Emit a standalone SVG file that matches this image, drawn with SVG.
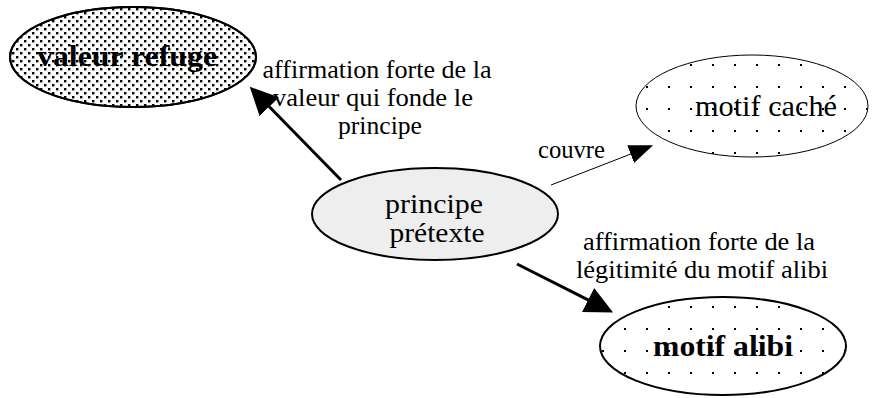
<svg xmlns="http://www.w3.org/2000/svg" width="872" height="398" viewBox="0 0 872 398">
<style>
text{font-family:'Liberation Serif','Times New Roman',serif;fill:#000;text-anchor:middle}
.b{font-weight:bold}
.ell{stroke:#000;stroke-width:2}
</style>
<defs>
<pattern id="dense" patternUnits="userSpaceOnUse" x="0" y="0" width="8" height="8">
<rect x="0" y="0" width="2.4" height="2.4" fill="#000"/>
<rect x="4" y="4" width="2.4" height="2.4" fill="#000"/>
</pattern>
<pattern id="sparse" patternUnits="userSpaceOnUse" x="8" y="20" width="22" height="22">
<rect x="0" y="0" width="2" height="2" fill="#000"/>
</pattern>
<marker id="ahThick" markerUnits="userSpaceOnUse" markerWidth="30" markerHeight="30" viewBox="0 -15 30 30" refX="1" refY="0" orient="auto">
<path d="M0,-13.5 L28,0 L0,13.5 z" fill="#000"/>
</marker>
<marker id="ahThin" markerUnits="userSpaceOnUse" markerWidth="26" markerHeight="22" viewBox="0 -11 26 22" refX="1" refY="0" orient="auto">
<path d="M0,-9.5 L24,0 L0,9.5 z" fill="#000"/>
</marker>
</defs>
<g id="connectors" stroke="#000" fill="none">
<line x1="341" y1="180" x2="268.6" y2="106" stroke-width="3" marker-end="url(#ahThick)"/>
<line x1="551" y1="185" x2="631.6" y2="153.7" stroke-width="1" marker-end="url(#ahThin)"/>
<line x1="517" y1="264" x2="589" y2="300.4" stroke-width="3" marker-end="url(#ahThick)"/>
</g>
<g id="node-valeur-refuge">
<ellipse cx="133" cy="57" rx="123" ry="50" fill="#fff" class="ell"/>
<ellipse cx="133" cy="57" rx="123" ry="50" fill="url(#dense)" class="ell"/>
<text class="b" x="127" y="66" font-size="30" textLength="180" lengthAdjust="spacingAndGlyphs">valeur refuge</text>
</g>
<g id="node-motif-cache">
<ellipse cx="752" cy="106" rx="116" ry="51" fill="url(#sparse)" stroke="#000" stroke-width="1"/>
<text x="766" y="116" font-size="30" textLength="142" lengthAdjust="spacingAndGlyphs">motif caché</text>
</g>
<g id="node-principe-pretexte">
<ellipse cx="435" cy="214" rx="123" ry="46" fill="#eeeeee" class="ell"/>
<text x="434" y="213" font-size="27" textLength="98" lengthAdjust="spacingAndGlyphs">principe</text>
<text x="437" y="242" font-size="27" textLength="95" lengthAdjust="spacingAndGlyphs">prétexte</text>
</g>
<g id="node-motif-alibi">
<ellipse cx="723" cy="346" rx="123" ry="49" fill="url(#sparse)" class="ell"/>
<text class="b" x="723" y="356" font-size="30" textLength="140" lengthAdjust="spacingAndGlyphs">motif alibi</text>
</g>
<g id="labels">
<text x="377" y="78" font-size="26" textLength="229" lengthAdjust="spacingAndGlyphs">affirmation forte de la</text>
<text x="373" y="106" font-size="26" textLength="200" lengthAdjust="spacingAndGlyphs">valeur qui fonde le</text>
<text x="380" y="134" font-size="26" textLength="84" lengthAdjust="spacingAndGlyphs">principe</text>
<text x="571.5" y="158" font-size="25" textLength="67" lengthAdjust="spacingAndGlyphs">couvre</text>
<text x="699" y="250" font-size="26" textLength="232" lengthAdjust="spacingAndGlyphs">affirmation forte de la</text>
<text x="702" y="278" font-size="26" textLength="252" lengthAdjust="spacingAndGlyphs">légitimité du motif alibi</text>
</g>
</svg>
